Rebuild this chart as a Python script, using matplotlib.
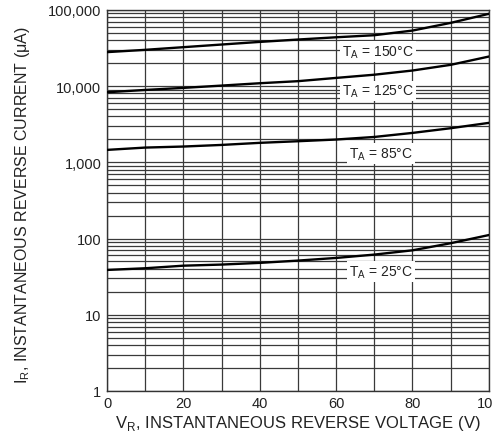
import matplotlib
matplotlib.use('Agg')
import matplotlib.pyplot as plt
from matplotlib.ticker import LogLocator, FixedLocator, NullFormatter, FuncFormatter

plt.rcParams['font.family'] = ['Liberation Sans', 'DejaVu Sans']
plt.rcParams['mathtext.fontset'] = 'custom'
plt.rcParams['mathtext.rm'] = 'Liberation Sans'

# reverse voltage (V)
vr = [0, 10, 20, 30, 40, 50, 60, 70, 80, 90, 100]

# reverse current (uA) per junction temperature
ir_150 = [27900, 29900, 32400, 35100, 38000, 40800, 43700, 46500, 53500, 67500, 88700]
ir_125 = [8300, 8900, 9470, 10150, 10900, 11600, 12800, 14100, 16000, 19000, 24400]
ir_85 = [1455, 1560, 1610, 1690, 1800, 1890, 1990, 2150, 2430, 2800, 3290]
ir_25 = [38.7, 40.7, 44, 45.5, 47.9, 51.3, 55.6, 61.5, 70, 86.7, 111]

curves = [ir_150, ir_125, ir_85, ir_25]
labels = ['T$_\\mathregular{A}$ = 150°C', 'T$_\\mathregular{A}$ = 125°C',
          'T$_\\mathregular{A}$ = 85°C', 'T$_\\mathregular{A}$ = 25°C']
label_pos = [(71, 28500), (71, 8600), (71.8, 1300), (71.8, 37)]

fig = plt.figure(figsize=(4.92, 4.35), dpi=100)
ax = fig.add_axes([0.2175, 0.099, 0.776, 0.876])

for ir in curves:
    ax.plot(vr, ir, color='black', lw=1.7, zorder=3)

for txt, (x, y) in zip(labels, label_pos):
    ax.text(x, y, txt, ha='center', va='center', fontsize=10, color='#222222',
            bbox=dict(facecolor='white', edgecolor='none', pad=1.5), zorder=4)

ax.set_yscale('log')
ax.set_xlim(0, 100)
ax.set_ylim(1, 100000)

ax.xaxis.set_major_locator(FixedLocator([0, 20, 40, 60, 80, 100]))
ax.xaxis.set_minor_locator(FixedLocator([10, 30, 50, 70, 90]))
ax.yaxis.set_major_locator(LogLocator(base=10))
ax.yaxis.set_minor_locator(LogLocator(base=10, subs=range(2, 10)))
ax.yaxis.set_minor_formatter(NullFormatter())
ax.yaxis.set_major_formatter(FuncFormatter(lambda v, p: f'{v:,.0f}'))

ax.grid(which='both', axis='both', color='#3a3a3a', lw=0.9, zorder=1)
ax.tick_params(which='both', length=0, labelsize=10.5, colors='#222222', pad=4)
for s in ax.spines.values():
    s.set_color('#333333')
    s.set_linewidth(1.0)

ax.set_xlabel('V$_\\mathregular{R}$, INSTANTANEOUS REVERSE VOLTAGE (V)',
              fontsize=12, color='#222222', labelpad=2)
ylab = ax.set_ylabel('I$_\\mathregular{R}$, INSTANTANEOUS REVERSE CURRENT (μA)',
                     fontsize=11.5, color='#222222', va='center')
ax.yaxis.set_label_coords(-0.222, 0.49)

fig.savefig('out.png', dpi=100)
